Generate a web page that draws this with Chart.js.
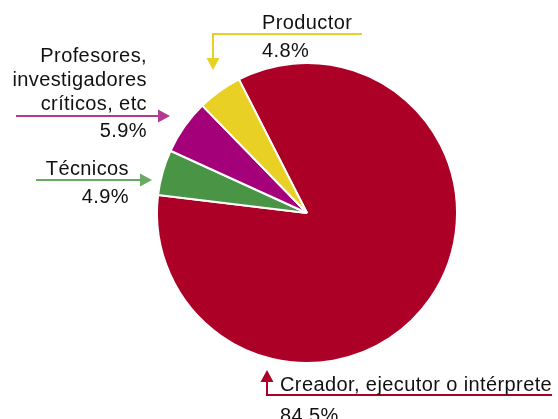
<!DOCTYPE html>
<html>
<head>
<meta charset="utf-8">
<script src="https://cdn.jsdelivr.net/npm/chart.js@4"></script>
<style>
    html, body { margin: 0; padding: 0; background: #ffffff; }
    #wrap { width: 558px; height: 419px; }
</style>
</head>
<body>
<div id="wrap"><canvas id="pieChart" width="558" height="419"></canvas></div>
<script>
// Chart data
const categoryLines = [
    ['Creador, ejecutor o intérprete'],
    ['Técnicos'],
    ['Profesores,', 'investigadores', 'críticos, etc'],
    ['Productor']
];
const categories = categoryLines.map(lines => lines.join(' '));
const shares = [84.5, 4.9, 5.9, 4.8];
const sliceColors = ['#ad0027', '#4a9445', '#a3007a', '#e8d024'];
const arrowColors = ['#ad0027', '#6aa963', '#b23a93', '#e8d024'];

// Callout placement for each slice (text anchor, baselines, arrow path)
const callouts = [
    { x: 280, align: 'left', baseline: 391, gap: 31, line: [[267, 378], [267, 395], [552, 395]], head: { x: 267, y: 370, dir: 'up' } },
    { x: 129, align: 'right', baseline: 175, gap: 28, line: [[36, 180], [141, 180]], head: { x: 152, y: 180, dir: 'right' } },
    { x: 147, align: 'right', baseline: 62, step: 24, gap: 27, line: [[16, 116], [159, 116]], head: { x: 170, y: 116, dir: 'right' } },
    { x: 262, align: 'left', baseline: 29, gap: 28, line: [[362, 34], [213, 34], [213, 60]], head: { x: 213, y: 70, dir: 'down' } }
];

function drawHead(ctx, h, color) {
    const len = 12, half = 6.5;
    ctx.fillStyle = color;
    ctx.beginPath();
    if (h.dir === 'right') {
        ctx.moveTo(h.x, h.y);
        ctx.lineTo(h.x - len, h.y - half);
        ctx.lineTo(h.x - len, h.y + half);
    } else if (h.dir === 'down') {
        ctx.moveTo(h.x, h.y);
        ctx.lineTo(h.x - half, h.y - len);
        ctx.lineTo(h.x + half, h.y - len);
    } else {
        ctx.moveTo(h.x, h.y);
        ctx.lineTo(h.x - half, h.y + len);
        ctx.lineTo(h.x + half, h.y + len);
    }
    ctx.closePath();
    ctx.fill();
}

const calloutPlugin = {
    id: 'callouts',
    afterDraw(chart) {
        const ctx = chart.ctx;
        ctx.save();
        ctx.font = '20px "Liberation Sans", Arial, sans-serif';
        ctx.letterSpacing = '0.4px';
        ctx.textBaseline = 'alphabetic';
        callouts.forEach((c, i) => {
            // arrow
            ctx.strokeStyle = arrowColors[i];
            ctx.lineWidth = 2;
            ctx.beginPath();
            c.line.forEach((p, k) => k === 0 ? ctx.moveTo(p[0], p[1]) : ctx.lineTo(p[0], p[1]));
            ctx.stroke();
            drawHead(ctx, c.head, arrowColors[i]);

            // text
            ctx.fillStyle = '#111111';
            ctx.textAlign = c.align;
            let y = c.baseline;
            categoryLines[i].forEach((txt, k) => {
                if (k > 0) y += c.step;
                ctx.fillText(txt, c.x, y);
            });
            ctx.fillText(shares[i].toFixed(1) + '%', c.x, y + c.gap);
        });
        ctx.restore();
    }
};

const chart = new Chart(document.getElementById('pieChart').getContext('2d'), {
    type: 'pie',
    data: {
        labels: categories,
        datasets: [{
            data: shares,
            backgroundColor: sliceColors,
            borderColor: '#ffffff',
            borderWidth: 2,
            hoverOffset: 0
        }]
    },
    options: {
        responsive: false,
        animation: false,
        events: [],
        rotation: -27,
        radius: 150,
        layout: {
            padding: { left: 100, right: 44, top: 22, bottom: 15 }
        },
        plugins: {
            legend: { display: false },
            tooltip: { enabled: false }
        }
    },
    plugins: [calloutPlugin]
});
</script>
</body>
</html>
